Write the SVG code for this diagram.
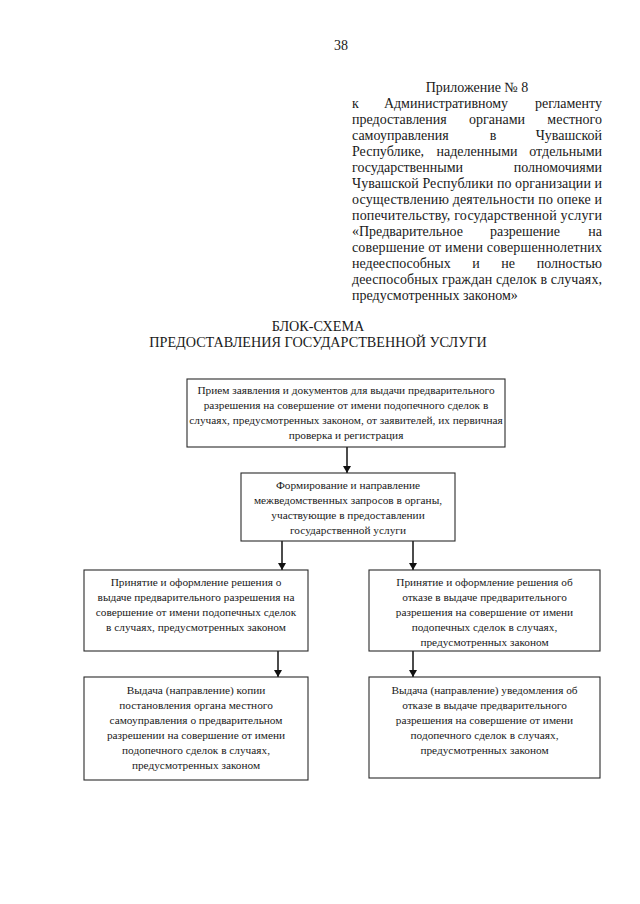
<svg xmlns="http://www.w3.org/2000/svg" width="640" height="904" viewBox="0 0 640 904">
<defs>
<style>
text{font-family:"Liberation Serif","Times New Roman",serif;fill:#1a1a1a}
.pg{font-size:14px}
.ap{font-size:14px}
.tt{font-size:14.2px;text-anchor:middle}
.bx{fill:#fff;stroke:#2a2a2a;stroke-width:1.1}
.bt{font-size:11.3px;text-anchor:middle}
.cn{stroke:#111;stroke-width:1.5;fill:none}
</style>
<marker id="ah" markerUnits="userSpaceOnUse" markerWidth="8" markerHeight="9" refX="7" refY="4" orient="auto">
<path d="M0,0 L7,4 L0,8 Z" fill="#111"/>
</marker>
</defs>
<rect width="640" height="904" fill="#fff"/>

<g id="page-number"><text class="pg" x="341" y="50" text-anchor="middle">38</text></g>

<g id="appendix">
<text class="ap" x="477" y="92" text-anchor="middle">Приложение № 8</text>
<text class="ap" y="108"><tspan x="352">к</tspan><tspan x="446" text-anchor="middle">Административному</tspan><tspan x="602" text-anchor="end">регламенту</tspan></text>
<text class="ap" y="124"><tspan x="352">предоставления</tspan><tspan x="497" text-anchor="middle">органами</tspan><tspan x="602" text-anchor="end">местного</tspan></text>
<text class="ap" y="140"><tspan x="352">самоуправления</tspan><tspan x="493" text-anchor="middle">в</tspan><tspan x="602" text-anchor="end">Чувашской</tspan></text>
<text class="ap" y="156"><tspan x="352">Республике,</tspan><tspan x="477" text-anchor="middle">наделенными</tspan><tspan x="602" text-anchor="end">отдельными</tspan></text>
<text class="ap" y="172"><tspan x="352">государственными</tspan><tspan x="602" text-anchor="end">полномочиями</tspan></text>
<text class="ap" x="352" y="188" textLength="250" lengthAdjust="spacing">Чувашской Республики по организации и</text>
<text class="ap" x="352" y="204" textLength="250" lengthAdjust="spacing">осуществлению деятельности по опеке и</text>
<text class="ap" x="352" y="220" textLength="250" lengthAdjust="spacing">попечительству, государственной услуги</text>
<text class="ap" y="236"><tspan x="352">«Предварительное</tspan><tspan x="525" text-anchor="middle">разрешение</tspan><tspan x="602" text-anchor="end">на</tspan></text>
<text class="ap" x="352" y="252" textLength="250" lengthAdjust="spacing">совершение от имени совершеннолетних</text>
<text class="ap" y="268"><tspan x="352">недееспособных</tspan><tspan x="476" text-anchor="middle">и</tspan><tspan x="508" text-anchor="middle">не</tspan><tspan x="602" text-anchor="end">полностью</tspan></text>
<text class="ap" x="352" y="284" textLength="250" lengthAdjust="spacing">дееспособных граждан сделок в случаях,</text>
<text class="ap" x="352" y="300">предусмотренных законом»</text>
</g>

<g id="title">
<text class="tt" x="318" y="331">БЛОК-СХЕМА</text>
<text class="tt" x="318" y="347">ПРЕДОСТАВЛЕНИЯ ГОСУДАРСТВЕННОЙ УСЛУГИ</text>
</g>

<g id="connectors">
<line class="cn" x1="347" y1="447" x2="347" y2="473" marker-end="url(#ah)"/>
<line class="cn" x1="282" y1="541" x2="282" y2="570" marker-end="url(#ah)"/>
<line class="cn" x1="413" y1="541" x2="413" y2="570" marker-end="url(#ah)"/>
<line class="cn" x1="278" y1="651" x2="278" y2="677" marker-end="url(#ah)"/>
<line class="cn" x1="413" y1="651" x2="413" y2="677" marker-end="url(#ah)"/>
</g>

<g id="node-reception">
<rect class="bx" x="187" y="379" width="318" height="68"/>
<text class="bt" x="346" y="394">Прием заявления и документов для выдачи предварительного</text>
<text class="bt" x="346" y="409">разрешения на совершение от имени подопечного сделок в</text>
<text class="bt" x="346" y="424">случаях, предусмотренных законом, от заявителей, их первичная</text>
<text class="bt" x="346" y="439">проверка и регистрация</text>
</g>

<g id="node-requests">
<rect class="bx" x="241" y="473" width="214" height="68"/>
<text class="bt" x="348" y="489">Формирование и направление</text>
<text class="bt" x="348" y="504">межведомственных запросов в органы,</text>
<text class="bt" x="348" y="519">участвующие в предоставлении</text>
<text class="bt" x="348" y="534">государственной услуги</text>
</g>

<g id="node-decision-grant">
<rect class="bx" x="84" y="570" width="224" height="81"/>
<text class="bt" x="196" y="586">Принятие и оформление решения о</text>
<text class="bt" x="196" y="601">выдаче предварительного разрешения на</text>
<text class="bt" x="196" y="616">совершение от имени подопечных сделок</text>
<text class="bt" x="196" y="631">в случаях, предусмотренных законом</text>
</g>

<g id="node-decision-refuse">
<rect class="bx" x="369" y="570" width="231" height="81"/>
<text class="bt" x="484.5" y="586">Принятие и оформление решения об</text>
<text class="bt" x="484.5" y="601">отказе в выдаче предварительного</text>
<text class="bt" x="484.5" y="616">разрешения на совершение от имени</text>
<text class="bt" x="484.5" y="631">подопечных сделок в случаях,</text>
<text class="bt" x="484.5" y="646">предусмотренных законом</text>
</g>

<g id="node-issue-copy">
<rect class="bx" x="84" y="677" width="224" height="103"/>
<text class="bt" x="196" y="694">Выдача (направление) копии</text>
<text class="bt" x="196" y="709">постановления органа местного</text>
<text class="bt" x="196" y="724">самоуправления о предварительном</text>
<text class="bt" x="196" y="739">разрешении на совершение от имени</text>
<text class="bt" x="196" y="754">подопечного сделок в случаях,</text>
<text class="bt" x="196" y="769">предусмотренных законом</text>
</g>

<g id="node-issue-notice">
<rect class="bx" x="369" y="677" width="231" height="101"/>
<text class="bt" x="484.5" y="694">Выдача (направление) уведомления об</text>
<text class="bt" x="484.5" y="709">отказе в выдаче предварительного</text>
<text class="bt" x="484.5" y="724">разрешения на совершение от имени</text>
<text class="bt" x="484.5" y="739">подопечного сделок в случаях,</text>
<text class="bt" x="484.5" y="754">предусмотренных законом</text>
</g>
</svg>
